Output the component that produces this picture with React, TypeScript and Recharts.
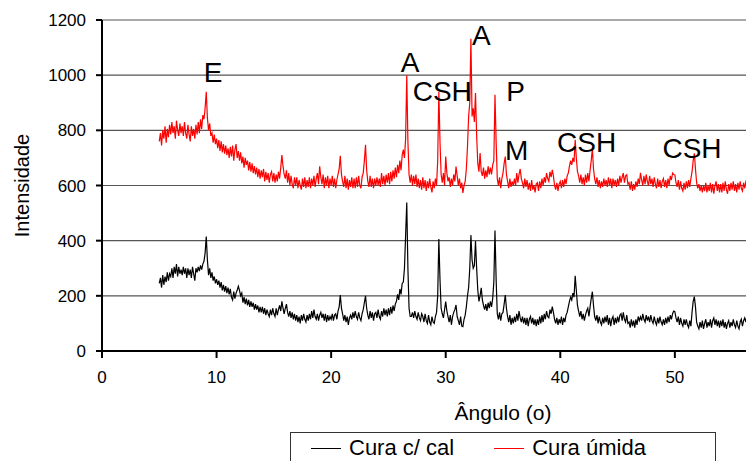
import { CartesianGrid, Line, LineChart, ReferenceDot, XAxis, YAxis } from "recharts"

// XRD scan: 5.0° to 56.9° in 0.1° steps
const angleStart = 5.0
const angleStep = 0.1

// Cura úmida (red)
const curaUmida = [
  760, 790, 745, 800, 770, 815, 755, 805, 775, 820,
  785, 830, 790, 815, 770, 835, 800, 780, 825, 790,
  815, 780, 830, 790, 770, 820, 785, 760, 815, 780,
  805, 770, 820, 785, 830, 790, 840, 805, 855, 840,
  880, 940, 845, 800, 825, 780, 790, 755, 785, 750,
  770, 735, 765, 725, 760, 720, 750, 715, 745, 710,
  735, 700, 740, 705, 745, 690, 730, 750, 700, 725,
  690, 720, 680, 705, 665, 700, 675, 690, 655, 685,
  650, 680, 645, 670, 640, 665, 630, 660, 625, 655,
  630, 660, 615, 650, 620, 645, 610, 640, 650, 615,
  645, 610, 640, 615, 650, 625, 665, 710, 670, 640,
  625, 655, 610, 645, 600, 635, 605, 590, 630, 600,
  630, 590, 620, 600, 585, 625, 595, 630, 590, 620,
  595, 630, 590, 625, 600, 635, 595, 625, 645, 605,
  670, 630, 605, 640, 590, 630, 600, 635, 590, 625,
  600, 635, 595, 625, 590, 620, 640, 660, 708, 640,
  615, 595, 635, 590, 625, 585, 620, 595, 630, 590,
  625, 590, 630, 595, 635, 600, 590, 630, 645, 690,
  748, 655, 615, 595, 635, 595, 625, 590, 625, 600,
  630, 600, 625, 595, 645, 605, 635, 600, 640, 610,
  645, 605, 650, 615, 655, 625, 665, 630, 675, 645,
  690, 655, 710, 730, 700, 770, 1000, 760, 640, 610,
  640, 600, 635, 605, 640, 595, 625, 590, 620, 585,
  630, 590, 620, 580, 615, 590, 625, 595, 575, 615,
  590, 625, 600, 690, 940, 760, 640, 610, 645, 600,
  705, 645, 615, 630, 595, 625, 600, 640, 615, 669,
  635, 600, 625, 590, 610, 573, 600, 615, 660, 740,
  850, 900, 1132, 850, 880, 830, 935, 780, 680, 650,
  718, 650, 635, 665, 625, 655, 630, 670, 640, 665,
  640, 675, 690, 929, 760, 625, 600, 630, 590, 625,
  645, 680, 705, 640, 615, 590, 625, 595, 615, 600,
  625, 600, 645, 610, 640, 660, 625, 610, 590, 625,
  595, 620, 585, 610, 580, 620, 585, 600, 575, 605,
  610, 580, 615, 590, 625, 600, 630, 610, 645, 625,
  615, 650, 630, 657, 635, 600, 585, 610, 580, 605,
  615, 590, 620, 595, 625, 605, 635, 645, 670, 690,
  675, 700, 685, 766, 700, 650, 635, 610, 640, 605,
  630, 600, 640, 610, 645, 615, 655, 690, 733, 660,
  625, 605, 630, 595, 620, 590, 615, 595, 625, 600,
  620, 595, 630, 600, 625, 590, 625, 600, 620, 595,
  625, 600, 635, 610, 630, 645, 610, 635, 639, 605,
  610, 585, 615, 580, 605, 585, 615, 595, 625, 605,
  646, 620, 600, 635, 605, 640, 615, 600, 635, 605,
  625, 595, 630, 605, 590, 625, 595, 620, 590, 615,
  625, 595, 620, 590, 625, 600, 635, 620, 645, 640,
  639, 610, 595, 620, 585, 615, 590, 580, 610, 585,
  615, 590, 620, 595, 625, 650, 690, 717, 660, 610,
  590, 605, 580, 600, 575, 600, 580, 610, 575, 600,
  580, 610, 575, 605, 570, 600, 615, 580, 605, 575,
  605, 575, 610, 580, 615, 585, 570, 605, 580, 610,
  585, 615, 580, 605, 575, 610, 585, 615, 590, 580,
  610, 590, 615, 625, 645, 615, 595, 580, 610, 585,
]

// Cura c/ cal (black)
const curaCal = [
  245, 265, 230, 275, 240, 270, 250, 285, 255, 280,
  270, 300, 265, 305, 280, 315, 270, 305, 280, 295,
  275, 305, 280, 300, 265, 300, 275, 295, 265, 305,
  280, 255, 300, 285, 305, 290, 310, 295, 315, 325,
  355, 415, 330, 275, 300, 265, 285, 255, 270, 245,
  260, 240, 255, 230, 250, 220, 240, 215, 235, 210,
  230, 205, 225, 195, 185, 215, 190, 210, 220, 235,
  220, 200, 210, 175, 195, 170, 190, 165, 185, 160,
  180, 160, 175, 150, 170, 150, 165, 140, 160, 140,
  160, 135, 155, 130, 150, 135, 125, 150, 130, 155,
  135, 125, 155, 130, 150, 165, 145, 180, 155, 135,
  155, 170, 140, 125, 145, 120, 140, 115, 135, 110,
  130, 105, 125, 100, 130, 110, 135, 115, 105, 130,
  110, 135, 115, 145, 120, 150, 125, 115, 135, 110,
  130, 140, 120, 135, 110, 135, 105, 130, 110, 125,
  115, 135, 110, 130, 135, 115, 145, 160, 203, 155,
  135, 110, 130, 105, 125, 95, 120, 130, 115, 140,
  120, 145, 125, 115, 140, 120, 110, 135, 150, 175,
  200, 155, 130, 115, 145, 120, 140, 110, 135, 140,
  120, 150, 125, 115, 145, 125, 155, 130, 150, 125,
  155, 130, 160, 135, 165, 145, 170, 180, 205, 185,
  225, 205, 245, 250, 300, 420, 538, 300, 155, 125,
  125, 140, 120, 145, 125, 115, 140, 120, 110, 135,
  125, 105, 135, 110, 100, 130, 105, 95, 125, 105,
  100, 125, 140, 200, 406, 260, 155, 135, 120, 150,
  179, 145, 125, 105, 130, 95, 125, 140, 150, 167,
  125, 110, 95, 125, 90, 88, 115, 130, 160, 200,
  230, 300, 420, 330, 300, 310, 399, 300, 220, 180,
  200, 229, 185, 165, 150, 170, 145, 175, 155, 180,
  160, 190, 250, 437, 260, 135, 115, 140, 110, 135,
  140, 170, 203, 155, 125, 105, 130, 95, 120, 100,
  125, 105, 135, 110, 145, 120, 105, 125, 100, 120,
  95, 120, 90, 115, 125, 100, 120, 95, 115, 90,
  115, 95, 125, 100, 130, 105, 135, 115, 145, 125,
  120, 150, 135, 161, 140, 115, 100, 120, 95, 115,
  100, 125, 95, 120, 105, 130, 140, 160, 180, 195,
  185, 210, 195, 273, 220, 165, 145, 125, 145, 115,
  135, 110, 130, 145, 155, 125, 160, 190, 215, 165,
  125, 110, 130, 100, 125, 105, 95, 120, 100, 125,
  105, 130, 95, 120, 90, 115, 125, 95, 120, 100,
  125, 105, 130, 135, 110, 140, 115, 105, 130, 100,
  105, 85, 115, 90, 110, 85, 115, 95, 125, 110,
  124, 110, 135, 115, 105, 130, 110, 125, 105, 130,
  110, 100, 125, 105, 95, 120, 100, 125, 105, 95,
  115, 95, 120, 100, 125, 105, 130, 115, 135, 145,
  143, 120, 105, 125, 95, 120, 100, 90, 115, 95,
  115, 95, 85, 110, 90, 140, 180, 197, 160, 105,
  90, 80, 105, 85, 110, 80, 100, 115, 85, 105,
  90, 115, 85, 110, 120, 95, 115, 90, 110, 85,
  110, 90, 115, 85, 105, 80, 100, 110, 85, 105,
  90, 115, 95, 85, 110, 90, 80, 105, 115, 90,
  110, 120, 105, 125, 140, 115, 95, 85, 110, 90,
]

// only the ticks that fit inside the cropped picture
const xTicks = [0, 10, 20, 30, 40, 50]
const yTicks = [0, 200, 400, 600, 800, 1000, 1200]

// phase labels written over the peaks
const peakLabels = ["E", "A", "CSH", "A", "P", "M", "CSH", "CSH"]
const peakLabelAngles = [9.7, 26.9, 29.7, 33.1, 36.1, 36.2, 42.3, 51.5]
const peakLabelIntensities = [976, 1013, 905, 1111, 905, 693, 723, 700]

const series = [
  { key: "cal", name: "Cura c/ cal", color: "#000000" },
  { key: "umida", name: "Cura úmida", color: "#ff0000" },
]

const data = curaUmida.map((v, i) => ({
  angle: Math.round((angleStart + i * angleStep) * 10) / 10,
  umida: v,
  cal: curaCal[i],
}))

const font = "'Liberation Sans', Arial, sans-serif"

export default function App() {
  return (
    <div style={{ position: "relative", width: 746, height: 453, overflow: "hidden", fontFamily: font }}>
      <LineChart width={1000} height={480} data={data} margin={{ top: 12, right: 104, left: 0, bottom: 67 }}>
        <CartesianGrid horizontal vertical={false} stroke="#555" strokeWidth={1.2} />
        <XAxis
          type="number"
          dataKey="angle"
          domain={[0, 70]}
          ticks={xTicks}
          height={70}
          stroke="#000"
          strokeWidth={2}
          tickSize={7}
          tickMargin={13}
          tick={{ fill: "#000", fontSize: 17, fontFamily: font }}
          label={{
            content: ({ viewBox }: any) => (
              <text x={viewBox.x + viewBox.width / 2} y={viewBox.y + 69} textAnchor="middle" fontSize={21} fontFamily={font} fill="#000">
                Ângulo (o)
              </text>
            ),
          }}
        />
        <YAxis
          domain={[0, 1200]}
          ticks={yTicks}
          width={94}
          stroke="#000"
          strokeWidth={2}
          tickSize={6}
          tickMargin={10}
          tick={{ fill: "#000", fontSize: 17, fontFamily: font }}
          label={{
            content: ({ viewBox }: any) => {
              const cy = viewBox.y + viewBox.height / 2
              return (
                <text x={14} y={cy} transform={`rotate(-90 14 ${cy})`} textAnchor="middle" dominantBaseline="central" fontSize={20} fontFamily={font} fill="#000">
                  Intensidade
                </text>
              )
            },
          }}
        />
        <Line type="linear" dataKey="umida" name="Cura úmida" stroke="#ff0000" strokeWidth={1.2} dot={false} isAnimationActive={false} />
        <Line type="linear" dataKey="cal" name="Cura c/ cal" stroke="#000000" strokeWidth={1.2} dot={false} isAnimationActive={false} />
        {peakLabels.map((t, i) => (
          <ReferenceDot
            key={i}
            x={peakLabelAngles[i]}
            y={peakLabelIntensities[i]}
            r={1}
            fill="none"
            stroke="none"
            ifOverflow="visible"
            label={{
              content: ({ viewBox }: any) => (
                <text x={viewBox.x + viewBox.width / 2} y={viewBox.y + viewBox.height / 2} textAnchor="middle" fontSize={28} fontFamily={font} fill="#000">
                  {t}
                </text>
              ),
            }}
          />
        ))}
      </LineChart>
      <div
        style={{
          position: "absolute",
          left: 282,
          top: 424,
          width: 426,
          height: 50,
          border: "1px solid #333",
          background: "#fff",
          boxSizing: "border-box",
          display: "flex",
          alignItems: "flex-start",
          paddingTop: 2,
          paddingLeft: 20,
          fontSize: 22,
          color: "#000",
        }}
      >
        {series.map((s) => (
          <div key={s.key} style={{ display: "flex", alignItems: "center", marginRight: 40 }}>
            <span style={{ display: "inline-block", width: 30, height: 0, borderTop: `1.5px solid ${s.color}`, marginRight: 8 }} />
            <span>{s.name}</span>
          </div>
        ))}
      </div>
    </div>
  )
}
